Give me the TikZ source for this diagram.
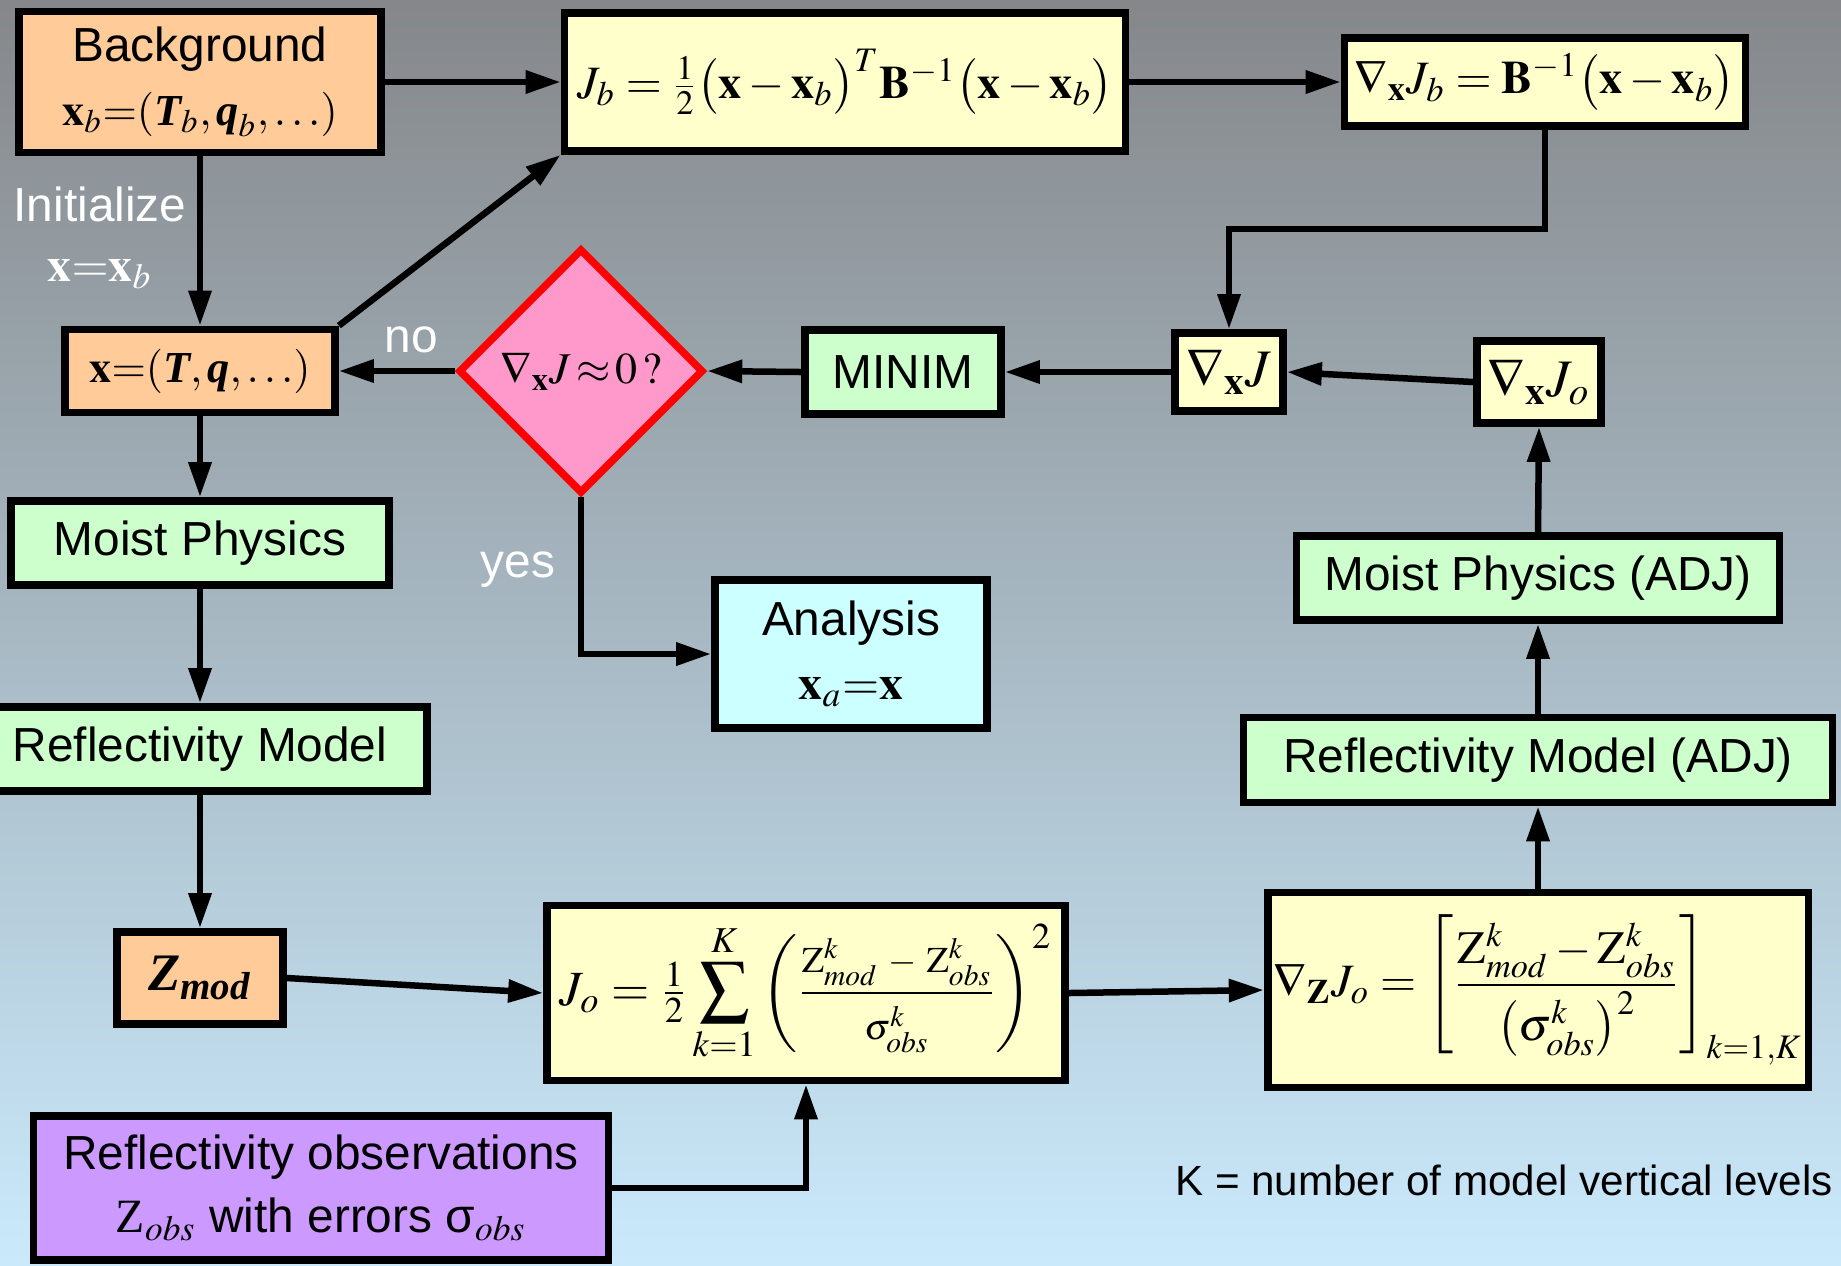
\documentclass[tikz,border=0pt]{standalone}
\usepackage{amsmath}
\usepackage{mathptmx}
\usepackage[no-math]{fontspec}
\setmainfont{Liberation Sans}
\newfontfamily\tms{Liberation Serif}
\usetikzlibrary{shapes.geometric,arrows.meta}

\definecolor{peach}{HTML}{FFCC99}
\definecolor{cream}{HTML}{FFFFCC}
\definecolor{mint}{HTML}{CCFFCC}
\definecolor{aqua}{HTML}{CCFFFF}
\definecolor{lilac}{HTML}{CC99FF}
\definecolor{rose}{HTML}{FF99CC}
\definecolor{skytop}{HTML}{85878A}
\definecolor{skymid}{HTML}{A9BCC9}
\definecolor{skybot}{HTML}{CAEAFC}

\newcommand{\bit}[1]{\mbox{\tms\bfseries\itshape #1}}
\newcommand{\vx}{\mathbf{x}}
\newcommand{\smallmath}{\fontsize{12.6}{18}\selectfont}

\tikzstyle{box} = [draw, line width=0.77mm, inner sep=0pt, align=center, font=\fontsize{13.6}{18}\selectfont]
\tikzstyle{eq} = [box, fill=cream, inner xsep=0.6mm, font=\fontsize{13.2}{18}\selectfont]
\tikzstyle{proc} = [box, fill=mint]
\tikzstyle{state} = [box, fill=peach]
\tikzstyle{ques} = [diamond, aspect=1, draw=red, fill=rose, line width=0.75mm, inner sep=0pt, minimum width=24.5mm, minimum height=24.5mm, font=\fontsize{12.5}{15}\selectfont]
\tikzstyle{note} = [white, align=center, font=\fontsize{13.6}{17}\selectfont]
\tikzstyle{arr} = [line width=0.65mm, -{Triangle[length=3.5mm,width=2.2mm]}]

\begin{document}
\begin{tikzpicture}[x=0.1mm, y=-0.1mm]
\clip (0,0) rectangle (1841,1265);
\shade[top color=skytop, middle color=skymid, bottom color=skybot] (0,0) rectangle (1841,1265);

\node[state, minimum width=36.2mm, minimum height=14.1mm] (bg) at (200,82)
    {Background\\{\smallmath$\vx_b{=}(\bit{T}_b,\bit{q}_b,\ldots)$}};
\node[eq, minimum width=56.1mm, minimum height=13.8mm] (jb) at (845,82)
    {$J_b=\frac{1}{2}\bigl(\vx-\vx_b\bigr)^{T}\mathbf{B}^{-1}\bigl(\vx-\vx_b\bigr)$};
\node[eq, minimum width=40.1mm, minimum height=8.8mm] (gjb) at (1545,82)
    {$\nabla_{\vx}J_b=\mathbf{B}^{-1}\bigl(\vx-\vx_b\bigr)$};
\node[state, minimum width=27mm, minimum height=8.3mm] (xst) at (200,371)
    {\smallmath$\vx{=}(\bit{T},\bit{q},\ldots)$};
\node[ques] (test) at (581,371) {$\nabla_{\vx}J\!\approx\!0\,?$};
\node[proc, minimum width=19.6mm, minimum height=8.4mm] (minim) at (903,372) {MINIM};
\node[eq, minimum width=10.8mm, minimum height=7.8mm, font=\fontsize{15}{18}\selectfont] (gj) at (1229,372) {$\nabla_{\vx}J$};
\node[eq, minimum width=12.4mm, minimum height=8.2mm, font=\fontsize{15}{18}\selectfont] (gjo) at (1539,382) {$\nabla_{\vx}J_o$};
\node[proc, minimum width=37.8mm, minimum height=8.4mm] (moist) at (200,543) {Moist Physics};
\node[box, fill=aqua, minimum width=27.2mm, minimum height=14.8mm] (ana) at (851,654)
    {Analysis\\$\vx_a{=}\vx$};
\node[proc, minimum width=48.3mm, minimum height=8.4mm] (moistadj) at (1538,578) {Moist Physics (ADJ)};
\node[proc, minimum width=45.4mm, minimum height=8.4mm] (refl) at (200,749) {Reflectivity Model};
\node[proc, minimum width=58.9mm, minimum height=8.5mm] (refladj) at (1538,760) {Reflectivity Model (ADJ)};
\node[state, minimum width=16.6mm, minimum height=9.2mm, font=\fontsize{15}{18}\selectfont] (zmod) at (200,978)
    {\tms\bfseries\itshape Z\textsubscript{mod}};
\node[eq, minimum width=51.8mm, minimum height=17.5mm, font=\fontsize{14}{18}\selectfont] (jo) at (806,993)
    {$\displaystyle J_o=\tfrac{1}{2}\sum_{k=1}^{K}\left(\frac{\scriptstyle \mathrm{Z}^k_{mod}\mskip5mu-\mskip5mu\mathrm{Z}^k_{obs}}{\scriptstyle \sigma^k_{obs}}\right)^{2}$};
\node[eq, minimum width=53.9mm, minimum height=19.5mm] (gzjo) at (1538,990)
    {$\displaystyle \nabla_{\mathbf{Z}}J_o=\left[\frac{\mathrm{Z}^k_{mod}-\mathrm{Z}^k_{obs}}{\bigl(\sigma^k_{obs}\bigr)^2}\right]_{k=1,K}$};
\node[box, fill=lilac, minimum width=57.5mm, minimum height=14.4mm] (obs) at (321,1188)
    {Reflectivity observations\\{\tms Z}$_{\mathit{obs}}$ with errors σ$_{\mathit{obs}}$};

\node[note] (init) at (100,238) {Initialize\\$\vx{=}\vx_b$};
\node[note] (no) at (411,340) {no};
\node[note] (yes) at (518,570) {yes};
\node[font=\fontsize{12}{14}\selectfont] (klev) at (1504,1180) {K = number of model vertical levels};

\coordinate (turn) at (1229,229);

\draw[arr] (bg.east) -- (jb.west);
\draw[arr] (jb.east) -- (gjb.west);
\draw[arr] (bg.south) -- (xst.north);
\draw[arr] (xst.north east) -- (jb.south west);
\draw[arr] (gjb.south) |- (turn) -- (gj.north);
\draw[arr] (gjo.west) -- (gj.east);
\draw[arr] (gj.west) -- (minim.east);
\draw[arr] (minim.west) -- (test.east);
\draw[arr] (test.west) -- (xst.east);
\draw[arr] (test.south) |- (ana.west);
\draw[arr] (xst.south) -- (moist.north);
\draw[arr] (moist.south) -- (refl.north);
\draw[arr] (refl.south) -- (zmod.north);
\draw[arr] (zmod.east) -- (jo.west);
\draw[arr] (obs.east) -| (jo.south);
\draw[arr] (jo.east) -- (gzjo.west);
\draw[arr] (gzjo.north) -- (refladj.south);
\draw[arr] (refladj.north) -- (moistadj.south);
\draw[arr] (moistadj.north) -- (gjo.south);
\end{tikzpicture}
\end{document}
